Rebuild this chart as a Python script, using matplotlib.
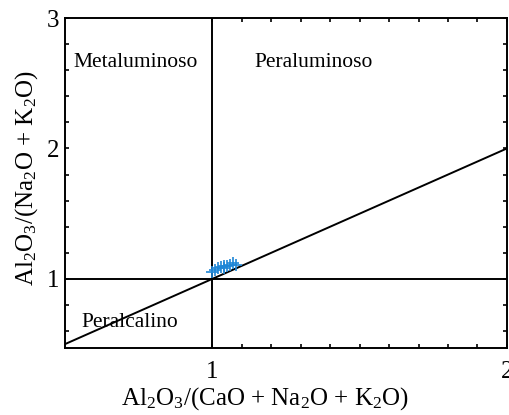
import numpy as np
import matplotlib
matplotlib.use("Agg")
import matplotlib.pyplot as plt
from matplotlib.ticker import FixedLocator

plt.rcParams['font.family'] = ['Liberation Serif', 'DejaVu Serif']
plt.rcParams['mathtext.fontset'] = 'custom'
plt.rcParams['mathtext.rm'] = 'Liberation Serif'
plt.rcParams['mathtext.it'] = 'Liberation Serif:italic'

# muestras (A/CNK, A/NK)
acnk = [1.00, 1.01, 1.02, 1.03, 1.04, 1.04, 1.05, 1.06, 1.07, 1.08]
ank = [1.05, 1.07, 1.08, 1.09, 1.08, 1.10, 1.10, 1.11, 1.12, 1.11]

# limites de campo
diag_x = [0.5, 2.0]
diag_y = [0.5, 2.0]
x_min, x_max = 0.5, 2.0
y_min, y_max = 0.47, 3.0

fig = plt.figure(figsize=(5.1, 4.15), dpi=100)
ax = fig.add_axes([0.1275, 0.1614, 0.8665, 0.7952])

lw = 1.4
ax.plot(diag_x, diag_y, color='black', lw=lw)
ax.axvline(1.0, color='black', lw=lw)
ax.axhline(1.0, color='black', lw=lw)

ax.plot(acnk, ank, '+', color='#1f86d6', ms=9, mew=1.2)

ax.text(0.74, 2.66, 'Metaluminoso', fontsize=15.5, ha='center', va='center')
ax.text(1.345, 2.66, 'Peraluminoso', fontsize=15.5, ha='center', va='center')
ax.text(0.72, 0.665, 'Peralcalino', fontsize=15.5, ha='center', va='center')

ax.set_xlim(x_min, x_max)
ax.set_ylim(y_min, y_max)
ax.set_xticks([1, 2])
ax.set_yticks([1, 2, 3])
ax.xaxis.set_minor_locator(FixedLocator(np.arange(1.1, 1.95, 0.1)))
ax.yaxis.set_minor_locator(FixedLocator([0.6, 0.8, 1.2, 1.4, 1.6, 1.8, 2.2, 2.4, 2.6, 2.8]))
ax.tick_params(which='both', direction='in', top=True, right=True, width=1.2, labelsize=18)
ax.tick_params(which='both', length=3)
ax.tick_params(axis='x', which='major', pad=9)
ax.tick_params(axis='y', which='major', pad=4)
for s in ax.spines.values():
    s.set_linewidth(lw)

ax.set_xlabel(r'Al$_2$O$_3$/(CaO + Na$_2$O + K$_2$O)', fontsize=18)
ax.set_ylabel(r'Al$_2$O$_3$/(Na$_2$O + K$_2$O)', fontsize=18)
ax.xaxis.set_label_coords(0.452, -0.152)
ax.yaxis.set_label_coords(-0.086, 0.515)
ax.xaxis.label.set_va('center')
ax.yaxis.label.set_va('center')

fig.savefig('out.png', dpi=100)
